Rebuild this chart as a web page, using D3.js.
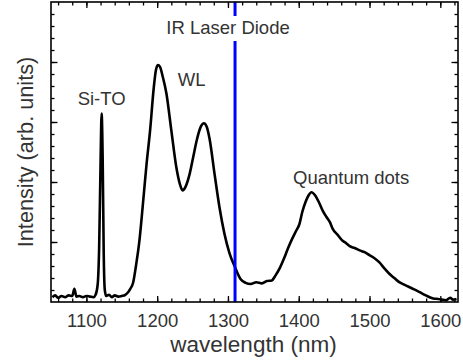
<!DOCTYPE html>
<html>
<head>
<meta charset="utf-8">
<script src="https://cdn.jsdelivr.net/npm/d3@7"></script>
<style>
  body { margin: 0; background: #fff; }
  text { font-family: "Liberation Sans", Arial, sans-serif; fill: #333; }
</style>
</head>
<body>
<div class="vis"></div>
<script>
// spectrum: wavelength (nm) and intensity (arb. units)
const wavelength = [1052, 1056, 1060, 1065, 1070, 1075, 1080, 1083, 1086, 1090, 1095, 1100, 1105, 1110, 1113,
    1116, 1118, 1120, 1121.5, 1123, 1124.5, 1126, 1128, 1132, 1136, 1140, 1145, 1150, 1155, 1158, 1162, 1166,
    1170, 1175, 1180, 1185, 1190, 1195, 1198, 1201, 1204, 1208, 1213, 1220, 1227, 1232, 1236, 1240, 1246, 1251,
    1256, 1262, 1266, 1270, 1274, 1281, 1288, 1295, 1302, 1310, 1318, 1325, 1332, 1340, 1348, 1355, 1362, 1367,
    1373, 1379, 1385, 1391, 1396, 1401, 1405, 1410, 1414, 1418, 1423, 1429, 1434, 1439, 1444, 1448, 1455, 1462,
    1467, 1472, 1479, 1486, 1493, 1500, 1507, 1514, 1521, 1528, 1535, 1542, 1549, 1556, 1563, 1570, 1578, 1585,
    1590, 1597, 1602, 1608, 1614, 1618, 1623];
const intensity = [0.08, 0.11, 0.07, 0.10, 0.08, 0.11, 0.10, 0.22, 0.09, 0.10, 0.08, 0.10, 0.09, 0.08, 0.12,
    0.3, 0.9, 2.3, 3.14, 2.4, 0.8, 0.2, 0.10, 0.12, 0.08, 0.11, 0.09, 0.10, 0.12, 0.15, 0.22, 0.32,
    0.6, 1.03, 1.65, 2.3, 2.86, 3.55, 3.85, 3.95, 3.92, 3.75, 3.48, 2.86, 2.25, 1.97, 1.86, 1.92, 2.14, 2.42,
    2.70, 2.93, 2.98, 2.92, 2.72, 2.14, 1.58, 1.14, 0.82, 0.58, 0.38, 0.32, 0.30, 0.33, 0.31, 0.35, 0.36, 0.44,
    0.56, 0.72, 0.90, 1.06, 1.18, 1.30, 1.50, 1.68, 1.78, 1.83, 1.78, 1.65, 1.52, 1.42, 1.33, 1.22, 1.12, 1.02,
    0.98, 0.93, 0.90, 0.86, 0.83, 0.78, 0.73, 0.66, 0.56, 0.47, 0.40, 0.33, 0.29, 0.25, 0.21, 0.17, 0.12, 0.08,
    0.06, 0.05, 0.04, 0.03, 0.07, 0.04, 0.05];

const xTicks = [1100, 1200, 1300, 1400, 1500, 1600];
const laserLine = 1310;
const peakLabels = ["Si-TO", "WL", "Quantum dots"];
const peakLabelAt = [[1121.5, 3.28], [1229, 3.6], [1474, 1.97]];

const dims = { width: 463, height: 362, left: 51, right: 5, top: 2, bottom: 60 };
const w = dims.width - dims.left - dims.right;
const h = dims.height - dims.top - dims.bottom;

const svg = d3.select(".vis").append("svg")
    .attr("width", dims.width)
    .attr("height", dims.height);

const g = svg.append("g")
    .attr("transform", `translate(${dims.left}, ${dims.top})`);

const x = d3.scaleLinear().domain([1050, 1625]).range([0, w]);
const y = d3.scaleLinear().domain([0, 5]).range([h, 0]);

const data = wavelength.map((d, i) => [d, intensity[i]]);

// spectrum
const line = d3.line()
    .x(d => x(d[0]))
    .y(d => y(d[1]))
    .curve(d3.curveMonotoneX);

g.append("path")
    .datum(data)
    .attr("fill", "none")
    .attr("stroke", "#000")
    .attr("stroke-width", 2.6)
    .attr("stroke-linejoin", "round")
    .attr("d", line);

// laser diode line
g.append("line")
    .attr("x1", x(laserLine)).attr("x2", x(laserLine))
    .attr("y1", 0).attr("y2", h)
    .attr("stroke", "#0000ff")
    .attr("stroke-width", 3);

// label with white box over the blue line
const lab = g.append("text")
    .attr("x", x(laserLine) - 7)
    .attr("y", 32)
    .attr("text-anchor", "middle")
    .style("font-size", "18.5px")
    .text("IR Laser Diode");
const bb = lab.node().getBBox();
g.insert("rect", "text")
    .attr("x", bb.x).attr("y", bb.y - 1)
    .attr("width", bb.width).attr("height", bb.height + 4)
    .attr("fill", "#fff");

peakLabels.forEach((t, i) => {
    g.append("text")
        .attr("x", x(peakLabelAt[i][0]))
        .attr("y", y(peakLabelAt[i][1]))
        .attr("text-anchor", i === 1 ? "start" : "middle")
        .style("font-size", "18.5px")
        .text(t);
});

// ticks, all pointing inward, mirrored on top and right
const minorX = d3.range(1060, 1625, 20);
const minorY = d3.range(0.2, 5, 0.2);
const majorY = [1, 2, 3, 4];

function ticks(axis, vals, size, tr) {
    g.append("g")
        .attr("transform", tr)
        .call(axis.tickValues(vals).tickSize(size).tickFormat(""))
        .call(a => a.select(".domain").remove())
        .selectAll("line").attr("stroke", "#000").attr("stroke-width", 1.3);
}
ticks(d3.axisBottom(x), minorX, -3.5, `translate(0,${h})`);
ticks(d3.axisBottom(x), xTicks, -6, `translate(0,${h})`);
ticks(d3.axisTop(x), minorX, -3.5, "translate(0,0)");
ticks(d3.axisTop(x), xTicks, -6, "translate(0,0)");
ticks(d3.axisLeft(y), minorY, -3.5, "translate(0,0)");
ticks(d3.axisLeft(y), majorY, -6.5, "translate(0,0)");
ticks(d3.axisRight(y), minorY, -3.5, `translate(${w},0)`);
ticks(d3.axisRight(y), majorY, -6.5, `translate(${w},0)`);

// tick labels
g.append("g")
    .attr("transform", `translate(0,${h})`)
    .call(d3.axisBottom(x).tickValues(xTicks).tickSize(0).tickPadding(11.5).tickFormat(d3.format("d")))
    .call(a => a.select(".domain").remove())
    .selectAll("text")
    .style("font-size", "18.5px")
    .attr("fill", "#333");

// frame
g.append("rect")
    .attr("width", w).attr("height", h)
    .attr("fill", "none")
    .attr("stroke", "#000")
    .attr("stroke-width", 1.6);

// axis titles
svg.append("text")
    .attr("x", dims.left + w / 2 - 1)
    .attr("y", 352)
    .attr("text-anchor", "middle")
    .style("font-size", "22.5px")
    .text("wavelength (nm)");

svg.append("text")
    .attr("transform", `translate(33, ${dims.top + h / 2}) rotate(-90)`)
    .attr("text-anchor", "middle")
    .style("font-size", "21.7px")
    .text("Intensity (arb. units)");
</script>
</body>
</html>
